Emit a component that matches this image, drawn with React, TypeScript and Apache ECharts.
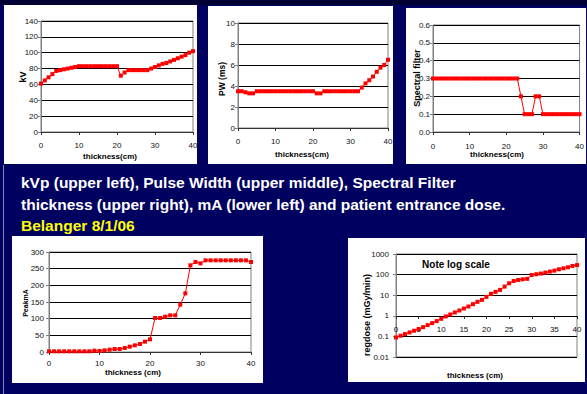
import React, { useEffect, useRef } from "react";
import * as echarts from "echarts";

const thickness = [0,1,2,3,4,5,6,7,8,9,10,11,12,13,14,15,16,17,18,19,20,21,22,23,24,25,26,27,28,29,30,31,32,33,34,35,36,37,38,39,40];
const kV = [61,65,69,73,77,78,79,80,81,82,83,83,83,83,83,83,83,83,83,83,83,71,75,78,78,78,78,78,78,80,82,84,86,87,89,91,93,95,97,100,102];
const pulseWidth = [3.5,3.5,3.4,3.3,3.3,3.5,3.5,3.5,3.5,3.5,3.5,3.5,3.5,3.5,3.5,3.5,3.5,3.5,3.5,3.5,3.5,3.3,3.3,3.5,3.5,3.5,3.5,3.5,3.5,3.5,3.5,3.5,3.5,3.85,4.25,4.55,4.9,5.35,5.75,6.0,6.5];
const spectralFilter = [0.3,0.3,0.3,0.3,0.3,0.3,0.3,0.3,0.3,0.3,0.3,0.3,0.3,0.3,0.3,0.3,0.3,0.3,0.3,0.3,0.3,0.3,0.3,0.3,0.2,0.1,0.1,0.1,0.2,0.2,0.1,0.1,0.1,0.1,0.1,0.1,0.1,0.1,0.1,0.1,0.1];
const peakmA = [2,2,2,2,2,2,2,2,2,4,3,5,7,9,9,12,16,20,24,31,38,102,102,106,110,110,142,176,260,270,266,275,275,275,275,275,275,275,275,275,270];
const regDose = [0.089,0.108,0.13,0.156,0.188,0.226,0.283,0.353,0.442,0.552,0.716,0.93,1.16,1.45,1.81,2.26,2.83,3.67,4.76,5.94,8.3,11.6,14.5,18.1,26.2,38,49,55,59,62,96,104,112,125,140,156,181,203,226,263,290];

const captionLines = [
  "kVp (upper left), Pulse Width (upper middle), Spectral Filter",
  "thickness (upper right), mA (lower left) and patient entrance dose.",
];
const captionCredit = "Belanger 8/1/06";

const NARROW = "'Liberation Sans Narrow','Arial Narrow','Liberation Sans',Arial,sans-serif";
const SANS = "'Liberation Sans',Arial,sans-serif";

const pairs = (ys: number[]) => thickness.map((x, i) => [x, ys[i]]);

export default function App() {
  const ref = useRef<HTMLDivElement>(null);
  useEffect(() => {
    if (!ref.current) return;
    const chart = echarts.init(ref.current, null, { renderer: "svg" });

    const grids = [
      { left: 41, top: 21, width: 152, height: 111 },
      { left: 238, top: 23, width: 150, height: 105 },
      { left: 433, top: 25, width: 148, height: 107 },
      { left: 49, top: 252, width: 202, height: 100 },
      { left: 396, top: 254, width: 181, height: 103 },
    ].map((g) => ({ ...g, show: true, borderColor: "#808080", borderWidth: 1, backgroundColor: "#fff" }));

    const labelStyle = { color: "#111", fontSize: 8, fontFamily: NARROW };

    const xAxisBase = (gi: number, interval: number, margin: number, extra: any = {}) => ({
      type: "value",
      gridIndex: gi,
      min: 0,
      max: 40,
      interval,
      axisLine: { show: true, onZero: false, lineStyle: { color: "#333", width: 1 } },
      axisTick: { show: true, length: 3, lineStyle: { color: "#333" } },
      axisLabel: { ...labelStyle, margin },
      splitLine: { show: false },
      ...extra,
    });

    const yAxisBase = (gi: number, min: number, max: number, interval: number, margin: number, extra: any = {}) => ({
      type: "value",
      gridIndex: gi,
      min,
      max,
      interval,
      axisLine: { show: true, lineStyle: { color: "#808080", width: 1 } },
      axisTick: { show: true, length: 3, lineStyle: { color: "#808080" } },
      axisLabel: { ...labelStyle, margin },
      splitLine: { show: true, lineStyle: { color: "#000", width: 1 } },
      ...extra,
    });

    const xAxis = [
      xAxisBase(0, 10, 9),
      xAxisBase(1, 10, 9),
      xAxisBase(2, 10, 10),
      xAxisBase(3, 10, 7),
      xAxisBase(4, 5, 9, { offset: -41, axisLine: { show: true, onZero: false, lineStyle: { color: "#000", width: 1 } } }),
    ];
    const yAxis = [
      yAxisBase(0, 0, 140, 20, 3),
      yAxisBase(1, 0, 10, 2, 3),
      yAxisBase(2, 0, 0.6, 0.1, 3, { axisLabel: { ...labelStyle, margin: 3, formatter: (v: number) => v.toFixed(1) } }),
      yAxisBase(3, 0, 300, 50, 5),
      {
        type: "log",
        gridIndex: 4,
        logBase: 10,
        min: 0.01,
        max: 1000,
        axisLine: { show: true, lineStyle: { color: "#808080", width: 1 } },
        axisTick: { show: true, length: 3, lineStyle: { color: "#808080" } },
        axisLabel: { ...labelStyle, margin: 7, formatter: (v: number) => String(Number(v.toPrecision(3))) },
        splitLine: { show: true, lineStyle: { color: "#000", width: 1 } },
      },
    ];

    const seriesData = [kV, pulseWidth, spectralFilter, peakmA, regDose];
    const series = seriesData.map((ys, i) => ({
      type: "line",
      xAxisIndex: i,
      yAxisIndex: i,
      data: pairs(ys),
      symbol: "rect",
      symbolSize: 4,
      lineStyle: { color: "#ff0000", width: 1 },
      itemStyle: { color: "#ff0000" },
      z: 5,
    }));

    const panel = (x: number, y: number, w: number, h: number) => ({
      type: "rect",
      z: -10,
      silent: true,
      shape: { x, y, width: w, height: h },
      style: { fill: "#fff" },
    });
    const text = (x: number, y: number, t: string, style: any, rot = 0) => ({
      type: "text",
      x,
      y,
      rotation: rot,
      z: 20,
      silent: true,
      style: { text: t, textAlign: "center", textVerticalAlign: "middle", fill: "#000", ...style },
    });
    const small = { fontSize: 8, fontFamily: NARROW, fontWeight: "bold" };

    const graphic = [
      { type: "rect", z: -20, silent: true, shape: { x: 0, y: 0, width: 587, height: 5 }, style: { fill: "#000033" } },
      { type: "line", z: -15, silent: true, shape: { x1: 3.5, y1: 165, x2: 3.5, y2: 394 }, style: { stroke: "#8888aa", lineWidth: 1 } },
      panel(4, 5, 193, 159),
      panel(208, 6, 185, 158),
      panel(406, 8, 180, 156),
      panel(12, 236, 251, 147),
      panel(348, 238, 237, 144),
      {
        type: "text", x: 21, y: 182, z: 20, silent: true,
        style: { text: captionLines[0], fill: "#fff", fontSize: 15.5, fontWeight: "bold", fontFamily: SANS, textVerticalAlign: "middle" },
      },
      {
        type: "text", x: 21, y: 204, z: 20, silent: true,
        style: { text: captionLines[1], fill: "#fff", fontSize: 15.5, fontWeight: "bold", fontFamily: SANS, textVerticalAlign: "middle" },
      },
      {
        type: "text", x: 21, y: 225, z: 20, silent: true,
        style: { text: captionCredit, fill: "#ffff00", fontSize: 15.5, fontWeight: "bold", fontFamily: SANS, textVerticalAlign: "middle" },
      },
      text(110, 156, "thickness(cm)", small),
      text(302, 154, "thickness(cm)", small),
      text(497, 154, "thickness(cm)", small),
      text(133, 372, "thickness (cm)", small),
      text(475, 375, "thickness (cm)", small),
      text(23, 77, "kV", { fontSize: 9, fontFamily: SANS, fontWeight: "bold" }, Math.PI / 2),
      text(222, 79, "PW (ms)", { fontSize: 8.5, fontFamily: SANS, fontWeight: "bold" }, Math.PI / 2),
      text(417, 78, "Spectral filter", { fontSize: 9, fontFamily: SANS, fontWeight: "bold" }, Math.PI / 2),
      text(25, 303, "PeakmA", { fontSize: 7, fontFamily: SANS, fontWeight: "bold" }, Math.PI / 2),
      text(367, 315, "regdose (mGy/min)", { fontSize: 9, fontFamily: SANS, fontWeight: "bold" }, Math.PI / 2),
      text(456, 264, "Note log scale", { fontSize: 10, fontFamily: SANS, fontWeight: "bold" }),
    ];

    chart.setOption({
      animation: false,
      backgroundColor: "#000060",
      grid: grids,
      xAxis,
      yAxis,
      series,
      graphic,
    } as any);

    return () => chart.dispose();
  }, []);

  return <div ref={ref} style={{ position: "fixed", left: 0, top: 0, width: 587, height: 394 }} />;
}
